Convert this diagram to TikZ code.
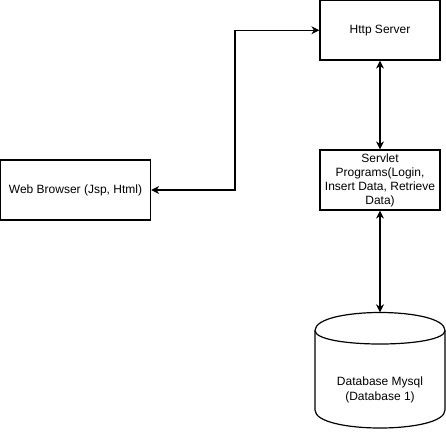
\documentclass[tikz,border=0pt]{standalone}
\usepackage{fontspec}
\setmainfont{Liberation Sans}
\usetikzlibrary{arrows.meta}
\begin{document}
\begin{tikzpicture}[x=1pt,y=-1pt,
  box/.style={draw=black, line width=1.2pt, rectangle, inner sep=0pt, align=center,
    font=\fontsize{12}{14}\selectfont},
  lbl/.style={inner sep=0pt, align=center, font=\fontsize{12}{15}\selectfont},
  conn/.style={line width=1.2pt, {Stealth[length=8pt,width=8pt,inset=2.5pt]}-{Stealth[length=8pt,width=8pt,inset=2.5pt]}}]
\useasboundingbox (0,0) rectangle (446,431);
\node[box, minimum width=120pt, minimum height=59.5pt] (http) at (380,30.25) {Http Server};
\node[box, minimum width=120pt, minimum height=60pt] (servlet) at (380,180)
  {Servlet\\Programs(Login,\\Insert Data, Retrieve\\Data)};
\node[box, minimum width=150pt, minimum height=60pt] (browser) at (75.5,190) {Web Browser (Jsp, Html)};
% cylinder
\node[inner sep=0pt, minimum width=130pt, minimum height=115.5pt] (db) at (380,370.25) {};
\draw[line width=1.2pt] (315,330.5) .. controls (315,306.5) and (445,306.5) .. (445,330.5)
  -- (445,410) .. controls (445,434) and (315,434) .. (315,410) -- cycle;
\draw[line width=1.2pt] (315,330.5) .. controls (315,348.5) and (445,348.5) .. (445,330.5);
\node[lbl] (dbtext) at (380,390) {Database Mysql\\(Database 1)};
\coordinate (j) at (235,110);
\draw[conn] (browser.east) -| (j) |- (http.west);
\draw[conn] (http.south) -- (servlet.north);
\draw[conn] (servlet.south) -- (db.north);
\end{tikzpicture}
\end{document}
